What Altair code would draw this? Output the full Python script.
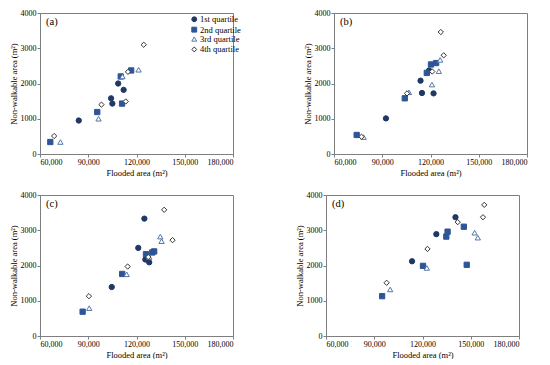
import altair as alt
import pandas as pd

quartiles = ["1st quartile", "2nd quartile", "3rd quartile", "4th quartile"]
panel_labels = ["(a)", "(b)", "(c)", "(d)"]
x_ticks = [60000, 90000, 120000, 150000, 180000]
y_ticks = [0, 1000, 2000, 3000, 4000]

# Panel (a)
a_q1_x = [84100, 104200, 105000, 108600, 112000]
a_q1_y = [950, 1580, 1430, 2000, 1820]
a_q2_x = [66400, 95600, 110200, 111000, 116700]
a_q2_y = [340, 1190, 2200, 1430, 2370]
a_q3_x = [72700, 96400, 111300, 121300]
a_q3_y = [340, 1000, 2200, 2390]
a_q4_x = [68800, 98200, 113300, 114700, 124500]
a_q4_y = [510, 1400, 1490, 2330, 3100]

# Panel (b)
b_q1_x = [92300, 113800, 114700, 119100, 121900]
b_q1_y = [1010, 2080, 1730, 2370, 1720]
b_q2_x = [74100, 104000, 117700, 120300, 123500]
b_q2_y = [540, 1580, 2300, 2540, 2580]
b_q3_x = [78400, 106600, 120900, 125200, 126000]
b_q3_y = [480, 1750, 1970, 2350, 2670]
b_q4_x = [77100, 105400, 121100, 126400, 128200]
b_q4_y = [490, 1720, 2340, 3460, 2800]

# Panel (c)
c_q1_x = [104600, 121100, 124900, 125500, 127900]
c_q1_y = [1390, 2500, 3330, 2170, 2090]
c_q2_x = [86500, 111100, 125900, 129800, 131000]
c_q2_y = [690, 1760, 2320, 2370, 2400]
c_q3_x = [90600, 113900, 127900, 134800, 135600]
c_q3_y = [790, 1750, 2240, 2820, 2690]
c_q4_x = [90400, 114500, 127300, 137200, 142400]
c_q4_y = [1130, 1970, 2240, 3580, 2720]

# Panel (d)
d_q1_x = [113500, 128600, 140500]
d_q1_y = [2120, 2890, 3370]
d_q2_x = [94900, 120300, 134800, 135600, 145700, 147500]
d_q2_y = [1130, 1990, 2820, 2960, 3100, 2020]
d_q3_x = [99900, 122700, 152400, 154400]
d_q3_y = [1320, 1930, 2930, 2790]
d_q4_x = [97700, 123100, 141900, 157600, 158400]
d_q4_y = [1510, 2470, 3230, 3370, 3720]

panels = {
    "(a)": [(a_q1_x, a_q1_y), (a_q2_x, a_q2_y), (a_q3_x, a_q3_y), (a_q4_x, a_q4_y)],
    "(b)": [(b_q1_x, b_q1_y), (b_q2_x, b_q2_y), (b_q3_x, b_q3_y), (b_q4_x, b_q4_y)],
    "(c)": [(c_q1_x, c_q1_y), (c_q2_x, c_q2_y), (c_q3_x, c_q3_y), (c_q4_x, c_q4_y)],
    "(d)": [(d_q1_x, d_q1_y), (d_q2_x, d_q2_y), (d_q3_x, d_q3_y), (d_q4_x, d_q4_y)],
}

rows = []
for p, series in panels.items():
    for q, (xs, ys) in zip(quartiles, series):
        for xv, yv in zip(xs, ys):
            rows.append({"panel": p, "quartile": q, "flooded": xv, "nonwalk": yv})
df = pd.DataFrame(rows)

FONT = "Liberation Serif"
W, H = 193, 141

shape_scale = alt.Scale(domain=quartiles, range=["circle", "square", "triangle-up", "diamond"])
fill_scale = alt.Scale(domain=quartiles, range=["#1f3864", "#2e5597", "#ffffff", "#ffffff"])
stroke_scale = alt.Scale(domain=quartiles, range=["#1f3864", "#2e5597", "#5577aa", "#333333"])


def make_panel(label, show_legend):
    sub = df[df["panel"] == label]
    if show_legend:
        leg = alt.Legend(title=None, orient="none", legendX=150, legendY=2,
                         labelFont=FONT, labelFontSize=8.5, labelColor="black",
                         symbolSize=24, symbolStrokeWidth=1, rowPadding=0.4,
                         labelOffset=1.5, padding=0)
    else:
        leg = None
    points = alt.Chart(sub).mark_point(filled=False, size=28, strokeWidth=1, opacity=1).encode(
        x=alt.X("flooded:Q", title="Flooded area (m²)",
                scale=alt.Scale(domain=[60000, 180000], nice=False, zero=False),
                axis=alt.Axis(values=x_ticks, format=",d")),
        y=alt.Y("nonwalk:Q", title="Non-walkable area (m²)",
                scale=alt.Scale(domain=[0, 4000], nice=False),
                axis=alt.Axis(values=y_ticks, format="d")),
        shape=alt.Shape("quartile:N", scale=shape_scale, legend=leg, sort=quartiles),
        fill=alt.Fill("quartile:N", scale=fill_scale, legend=leg, sort=quartiles),
        stroke=alt.Stroke("quartile:N", scale=stroke_scale, legend=leg, sort=quartiles),
        order=alt.Order("quartile:N"),
    )
    lab = alt.Chart(pd.DataFrame({"t": [label]})).mark_text(
        font=FONT, fontSize=10.5, align="left", baseline="middle", color="black"
    ).encode(x=alt.value(6), y=alt.value(9), text="t:N")
    return alt.layer(points, lab).properties(width=W, height=H)


row1 = alt.hconcat(make_panel("(a)", True), make_panel("(b)", False), spacing=60).resolve_scale(
    shape="independent", fill="independent", stroke="independent")
row2 = alt.hconcat(make_panel("(c)", False), make_panel("(d)", False), spacing=60).resolve_scale(
    shape="independent", fill="independent", stroke="independent")

chart = alt.vconcat(row1, row2, spacing=13).resolve_scale(
    shape="independent", fill="independent", stroke="independent"
).properties(padding=0).configure_view(
    stroke="#7f7f7f", strokeWidth=1
).configure_axis(
    grid=False, domainColor="#7f7f7f", tickColor="#7f7f7f", tickSize=3,
    labelFont=FONT, labelFontSize=8, labelColor="black", labelPadding=1,
    titleFont=FONT, titleFontSize=8.5, titleFontWeight="normal", titleColor="black",
    titlePadding=2
)

chart.save("out.html", embed_options={"renderer": "svg", "actions": False})
